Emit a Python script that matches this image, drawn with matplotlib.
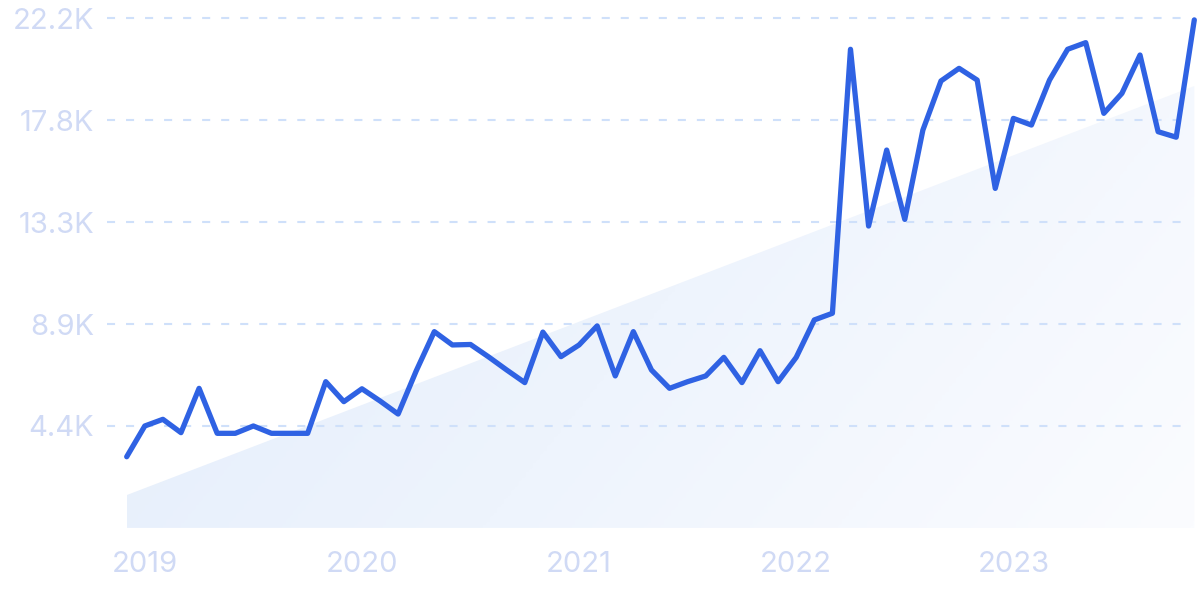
import numpy as np
import matplotlib
matplotlib.use("Agg")
import matplotlib.pyplot as plt
from matplotlib.colors import LinearSegmentedColormap

# monthly values, Dec 2018 .. Nov 2023
values = [3100, 4440, 4730, 4150, 6080, 4120, 4120, 4440, 4120, 4120,
          4120, 6370, 5500, 6060, 5530, 4960, 6840, 8550, 7970, 7990,
          7450, 6880, 6330, 8530, 7460, 7970, 8800, 6620, 8550, 6880,
          6080, 6370, 6620, 7430, 6330, 7720, 6370, 7430, 9060, 9350,
          20850, 13150, 16460, 13440, 17330, 19470, 20020, 19510, 14790, 17840,
          17550, 19510, 20850, 21140, 18060, 18930, 20600, 17260, 17020, 22130]
year_labels = ["2019", "2020", "2021", "2022", "2023"]
year_pos = [1, 13, 25, 37, 49]
yticks = [4440, 8880, 13320, 17760, 22200]
ytick_labels = ["4.4K", "8.9K", "13.3K", "17.8K", "22.2K"]
trend_x = [0, 59]
trend_y = [1430, 19250]

plt.rcParams['font.family'] = ['Inter', 'DejaVu Sans']
plt.rcParams['lines.scale_dashes'] = False

LABEL = '#d0daf5'
GRID = '#cfe0fa'
LINE = '#2f62e3'

fig = plt.figure(figsize=(12, 5.99), dpi=100)
ax = fig.add_axes([100/1200, 1 - 527.9/599, 1100/1200, 527.9/599])
x = np.arange(len(values))

ax.set_xlim(-1.4755, 59.315)
ax.set_ylim(0, 22997)

# gradient trend area
cmap = LinearSegmentedColormap.from_list('bg', ['#e3edfb', '#eef4fd', '#fbfcff'])
gx, gy = np.meshgrid(np.linspace(0, 1, 300), np.linspace(0, 1, 150))
grad = gx * 0.75 + gy * 0.25
img = ax.imshow(grad, cmap=cmap, extent=[trend_x[0], trend_x[1], 0, max(trend_y)],
                origin='upper', aspect='auto', zorder=1, vmin=0, vmax=1)
poly = ax.fill_between(trend_x, 0, trend_y, color='none', lw=0)
path = poly.get_paths()[0]
img.set_clip_path(path, transform=ax.transData)

for t in yticks:
    ax.axhline(t, xmin=7/1100, xmax=1090/1100, color=GRID, lw=1.5,
               dashes=(5.8, 7.9), zorder=2)

ax.plot(x, values, color=LINE, lw=3.8, solid_joinstyle='round',
        solid_capstyle='round', zorder=3, clip_on=False)

ax.set_yticks(yticks)
ax.set_yticklabels(ytick_labels)
ax.set_xticks(year_pos)
ax.set_xticklabels(year_labels)
ax.tick_params(axis='y', length=0, pad=4.3, labelsize=21, labelcolor=LABEL)
ax.tick_params(axis='x', length=0, pad=16.5, labelsize=21, labelcolor=LABEL)
for s in ax.spines.values():
    s.set_visible(False)

fig.savefig('out.png', dpi=100, facecolor='white')
